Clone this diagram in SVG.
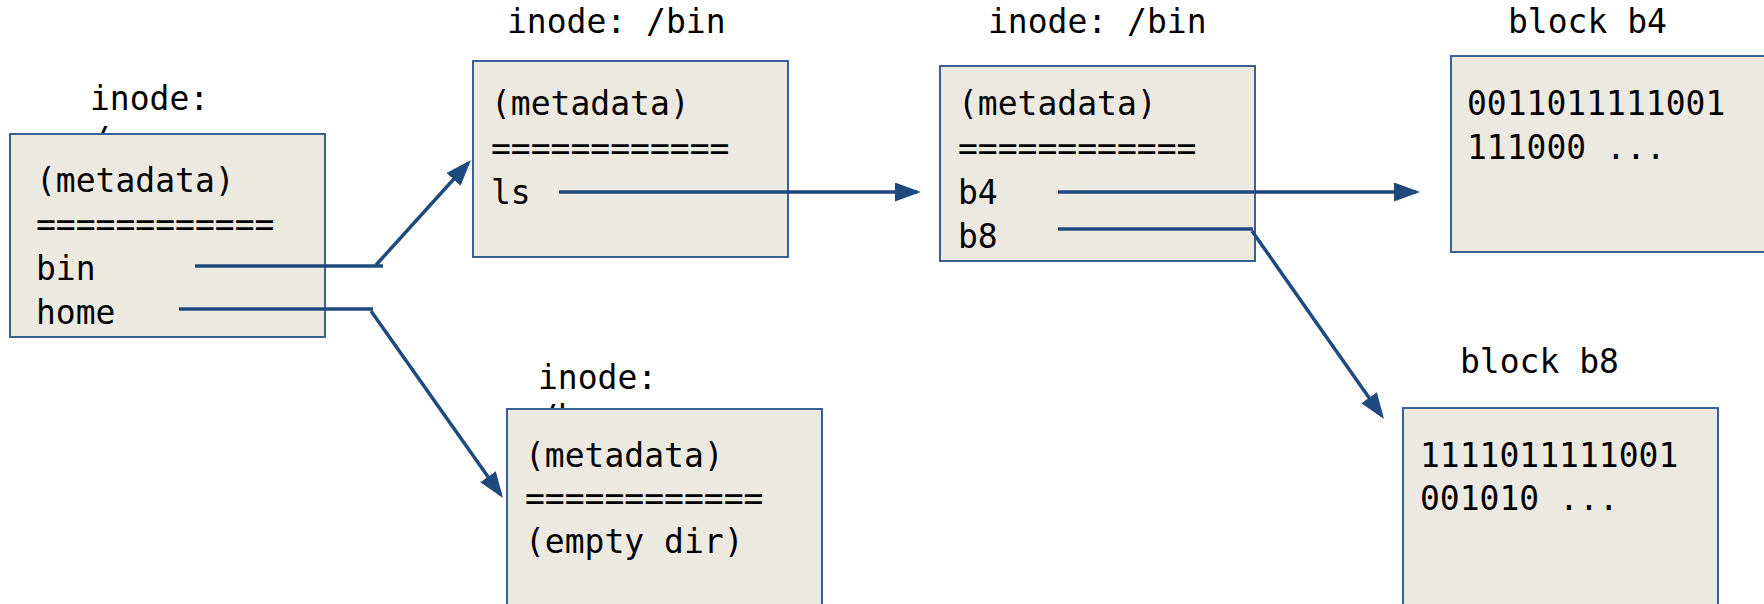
<svg xmlns="http://www.w3.org/2000/svg" width="1764" height="604" viewBox="0 0 1764 604">
  <style>
    .box { fill: #ECEAE0; stroke: #3A5F92; stroke-width: 2; }
    .txt { font-family: "DejaVu Sans Mono", "Liberation Mono", monospace; font-size: 33px; fill: #000; }
    .link { fill: none; stroke: #1F4A7F; stroke-width: 3.5; stroke-linecap: butt; }
  </style>
  <defs>
    <marker id="arrow" markerUnits="userSpaceOnUse" markerWidth="26" markerHeight="19" refX="22" refY="9.5" orient="auto">
      <path d="M0,0 L26,9.5 L0,19 Z" fill="#1F4A7F"/>
    </marker>
  </defs>

  <rect width="1764" height="604" fill="#FFFFFF"/>

  <!-- root directory inode -->
  <g id="inode-root">
    <text class="txt" x="90" y="110">inode:</text>
    <text class="txt" x="90" y="151">/</text>
    <rect class="box" x="10" y="134" width="315" height="203"/>
    <text class="txt" x="36" y="192">(metadata)</text>
    <text class="txt" x="36" y="236">============</text>
    <text class="txt" x="36" y="280">bin</text>
    <text class="txt" x="36" y="324">home</text>
  </g>

  <!-- /bin directory inode -->
  <g id="inode-bin-dir">
    <text class="txt" x="507" y="33">inode: /bin</text>
    <rect class="box" x="473" y="61" width="315" height="196"/>
    <text class="txt" x="491" y="115">(metadata)</text>
    <text class="txt" x="491" y="160">============</text>
    <text class="txt" x="491" y="204">ls</text>
  </g>

  <!-- /home directory inode -->
  <g id="inode-home">
    <text class="txt" x="538" y="389">inode:</text>
    <text class="txt" x="538" y="429">/home</text>
    <rect class="box" x="507" y="409" width="315" height="200"/>
    <text class="txt" x="525" y="467">(metadata)</text>
    <text class="txt" x="525" y="510">============</text>
    <text class="txt" x="525" y="553">(empty dir)</text>
  </g>

  <!-- ls file inode -->
  <g id="inode-ls">
    <text class="txt" x="988" y="33">inode: /bin</text>
    <rect class="box" x="940" y="66" width="315" height="195"/>
    <text class="txt" x="958" y="115">(metadata)</text>
    <text class="txt" x="958" y="160">============</text>
    <text class="txt" x="958" y="204">b4</text>
    <text class="txt" x="958" y="248">b8</text>
  </g>

  <!-- data block b4 -->
  <g id="block-b4">
    <text class="txt" x="1508" y="33">block b4</text>
    <rect class="box" x="1451" y="56" width="320" height="196"/>
    <text class="txt" x="1467" y="115">0011011111001</text>
    <text class="txt" x="1467" y="159">111000 ...</text>
  </g>

  <!-- data block b8 -->
  <g id="block-b8">
    <text class="txt" x="1460" y="373">block b8</text>
    <rect class="box" x="1403" y="408" width="315" height="200"/>
    <text class="txt" x="1420" y="467">1111011111001</text>
    <text class="txt" x="1420" y="510">001010 ...</text>
  </g>

  <!-- directory entry and block pointers -->
  <g id="connectors">
    <path class="link" d="M195,266 H383"/>
    <path class="link" d="M376,265 L468.3,163" marker-end="url(#arrow)"/>
    <path class="link" d="M179,309 H373"/>
    <path class="link" d="M371,311 L500.7,494.7" marker-end="url(#arrow)"/>
    <path class="link" d="M559,192 H917" marker-end="url(#arrow)"/>
    <path class="link" d="M1058,192 H1416" marker-end="url(#arrow)"/>
    <path class="link" d="M1058,229 H1253"/>
    <path class="link" d="M1252,231 L1381.7,415.7" marker-end="url(#arrow)"/>
  </g>
</svg>
